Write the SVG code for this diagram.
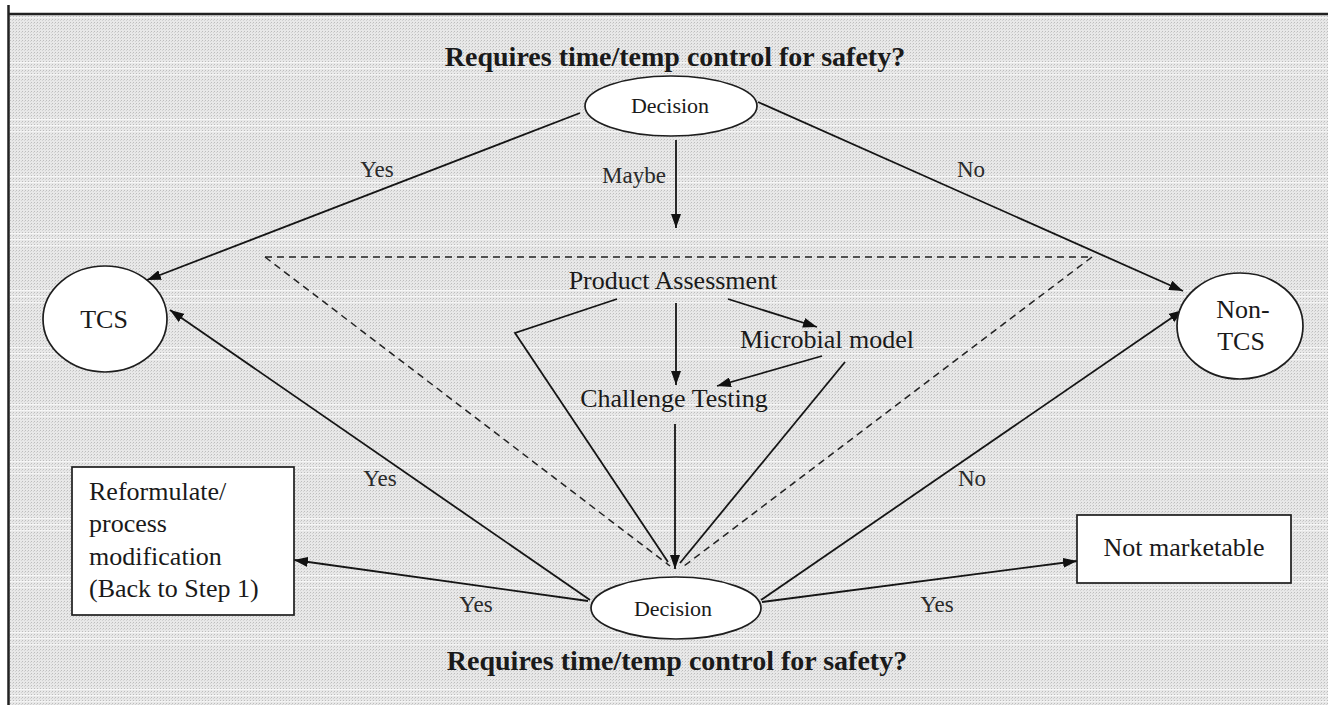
<svg xmlns="http://www.w3.org/2000/svg" width="1328" height="705" viewBox="0 0 1328 705">
  <style>
    .t { font-family: "Liberation Serif", "Times New Roman", serif; fill: #1a1a1a; }
    .title { font-size: 28px; font-weight: bold; text-anchor: middle; }
    .node { font-size: 26px; }
    .mid { text-anchor: middle; }
    .dec { font-size: 22px; text-anchor: middle; }
    .lbl { font-size: 23px; fill: #2a2a2a; text-anchor: middle; }
    .shape { fill: #ffffff; stroke: #1e1e1e; stroke-width: 1.7; }
    .conn { fill: none; stroke: #151515; stroke-width: 1.8; }
    .arrow { marker-end: url(#head); }
    .dash { fill: none; stroke: #222; stroke-width: 1.5; stroke-dasharray: 7 5; }
  </style>
  <defs>
    <pattern id="grain" width="3" height="3" patternUnits="userSpaceOnUse">
      <rect width="3" height="3" fill="#e8e8e8"/>
      <rect x="1" y="1" width="1" height="1" fill="#bdbdbd"/>
      <rect x="0" y="2" width="1" height="1" fill="#d2d2d2"/>
    </pattern>
    <pattern id="bands" width="1328" height="57" patternUnits="userSpaceOnUse" y="5">
      <rect y="0" width="1328" height="1" fill="#ffffff" opacity="0.7"/>
      <rect y="6" width="1328" height="1" fill="#ffffff" opacity="0.7"/>
      <rect y="12" width="1328" height="1" fill="#ffffff" opacity="0.6"/>
    </pattern>
    <marker id="head" viewBox="0 0 14 10" refX="14" refY="5" markerWidth="14" markerHeight="10" markerUnits="userSpaceOnUse" orient="auto">
      <path d="M0,0 L14,5 L0,10 z" fill="#111"/>
    </marker>
  </defs>

  <!-- page and textured panel -->
  <rect width="1328" height="705" fill="#ffffff"/>
  <rect x="9" y="15" width="1319" height="690" fill="url(#grain)"/>
  <rect x="9" y="15" width="1319" height="690" fill="url(#bands)"/>
  <line x1="8" y1="14" x2="1328" y2="14" stroke="#222" stroke-width="2.5"/>
  <line x1="8.5" y1="5" x2="8.5" y2="705" stroke="#222" stroke-width="2.5"/>

  <!-- headings -->
  <text class="t title" x="675" y="66">Requires time/temp control for safety?</text>
  <text class="t title" x="677" y="670">Requires time/temp control for safety?</text>

  <!-- connectors -->
  <g id="connectors">
    <!-- dashed assessment triangle -->
    <path class="dash" d="M265,257 L1092,257"/>
    <path class="dash" d="M265,257 L670,566"/>
    <path class="dash" d="M1092,257 L684,566"/>

    <!-- from first decision -->
    <path class="conn arrow" d="M580,113 L147,280"/>
    <path class="conn arrow" d="M758,102 L1183,291"/>
    <path class="conn arrow" d="M676,140 L676,228"/>

    <!-- assessment flow -->
    <path class="conn" d="M617,299 L515,333 L668,562"/>
    <path class="conn arrow" d="M676,303 L676,385"/>
    <path class="conn arrow" d="M728,299 L817,327"/>
    <path class="conn arrow" d="M822,356 L717,386"/>
    <path class="conn" d="M845,362 L680,563"/>
    <path class="conn arrow" d="M675,424 L675,569"/>

    <!-- from second decision -->
    <path class="conn arrow" d="M590,600 L170,310"/>
    <path class="conn arrow" d="M588,601 L294,560"/>
    <path class="conn arrow" d="M761,600 L1183,310"/>
    <path class="conn arrow" d="M762,602 L1077,561"/>

    <!-- branch labels -->
    <text class="t lbl" x="377" y="177">Yes</text>
    <text class="t lbl" x="634" y="183">Maybe</text>
    <text class="t lbl" x="971" y="177">No</text>
    <text class="t lbl" x="380" y="486">Yes</text>
    <text class="t lbl" x="972" y="486">No</text>
    <text class="t lbl" x="476" y="612">Yes</text>
    <text class="t lbl" x="937" y="612">Yes</text>
  </g>

  <g id="decision-top">
    <ellipse class="shape" cx="671" cy="106" rx="86" ry="30"/>
    <text class="t dec" x="670" y="113">Decision</text>
  </g>

  <g id="tcs">
    <ellipse class="shape" cx="105" cy="319" rx="62" ry="53"/>
    <text class="t node mid" x="104" y="328">TCS</text>
  </g>

  <g id="non-tcs">
    <ellipse class="shape" cx="1240" cy="326" rx="63" ry="53"/>
    <text class="t node mid" x="1243" y="318">Non-</text>
    <text class="t node mid" x="1241" y="350">TCS</text>
  </g>

  <g id="product-assessment">
    <text class="t node mid" x="673" y="289">Product Assessment</text>
  </g>

  <g id="microbial-model">
    <text class="t node" x="740" y="348">Microbial model</text>
  </g>

  <g id="challenge-testing">
    <text class="t node mid" x="674" y="407">Challenge Testing</text>
  </g>

  <g id="reformulate">
    <rect class="shape" x="72" y="467" width="222" height="148"/>
    <text class="t node" x="89" y="500">Reformulate/</text>
    <text class="t node" x="89" y="532">process</text>
    <text class="t node" x="89" y="565">modification</text>
    <text class="t node" x="89" y="597">(Back to Step 1)</text>
  </g>

  <g id="decision-bottom">
    <ellipse class="shape" cx="676" cy="608" rx="85" ry="31"/>
    <text class="t dec" x="673" y="616">Decision</text>
  </g>

  <g id="not-marketable">
    <rect class="shape" x="1077" y="515" width="214" height="68"/>
    <text class="t node mid" x="1184" y="556">Not marketable</text>
  </g>
</svg>
